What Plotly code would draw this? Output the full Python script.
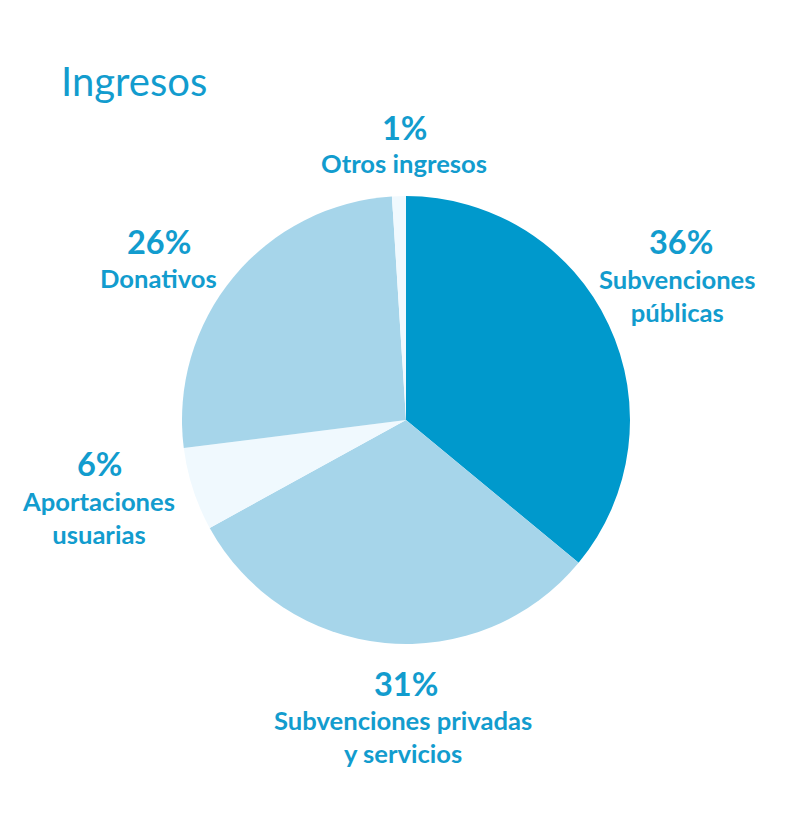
import plotly.graph_objects as go

labels = ["Subvenciones públicas", "Subvenciones privadas y servicios",
          "Aportaciones usuarias", "Donativos", "Otros ingresos"]
values = [36, 31, 6, 26, 1]
label_lines = ["Subvenciones<br>públicas", "Subvenciones privadas<br>y servicios",
               "Aportaciones<br>usuarias", "Donativos", "Otros ingresos"]
colors = ["#0099CC", "#A6D5EA", "#F0F9FE", "#A6D5EA", "#F0F9FE"]

text_color = "#129CCE"
W, H = 808, 840
OFF = 8  # page body margin

def px_x(x):
    return (x - OFF) / W

def px_y(y):
    return 1 - (y - OFF) / H

# label centres in pixels (percent line, name block)
pct_pos = [(681, 241), (406, 683), (99, 464), (159, 241), (404, 128)]
name_pos = [(677, 295), (403, 736), (98, 518), (158, 278), (404, 163)]

cx, cy, r = 406, 420, 224

fig = go.Figure()
fig.add_trace(go.Pie(
    labels=labels,
    values=values,
    sort=False,
    direction="clockwise",
    rotation=0,
    marker=dict(colors=colors, line=dict(width=0)),
    textinfo="none",
    hoverinfo="label+percent",
    domain=dict(x=[px_x(cx - r), px_x(cx + r)], y=[px_y(cy + r), px_y(cy - r)]),
    showlegend=False,
))

for i in range(len(labels)):
    px, py = pct_pos[i]
    fig.add_annotation(x=px_x(px), y=px_y(py), xref="paper", yref="paper",
                       text="%d%%" % values[i], showarrow=False,
                       xanchor="center", yanchor="middle",
                       font=dict(family="Lato", size=32.5, color=text_color, weight="bold"))
    nx, ny = name_pos[i]
    fig.add_annotation(x=px_x(nx), y=px_y(ny), xref="paper", yref="paper",
                       text=label_lines[i], showarrow=False,
                       xanchor="center", yanchor="middle", align="center",
                       font=dict(family="Lato", size=25.6, color=text_color, weight="bold"))

fig.add_annotation(x=px_x(59), y=px_y(81), xref="paper", yref="paper",
                   text="Ingresos", showarrow=False, xanchor="left", yanchor="middle",
                   font=dict(family="Lato", size=40, color=text_color))

fig.update_layout(width=W, height=H, margin=dict(l=0, r=0, t=0, b=0),
                  paper_bgcolor="white", plot_bgcolor="white")

fig.write_html("out.html")
